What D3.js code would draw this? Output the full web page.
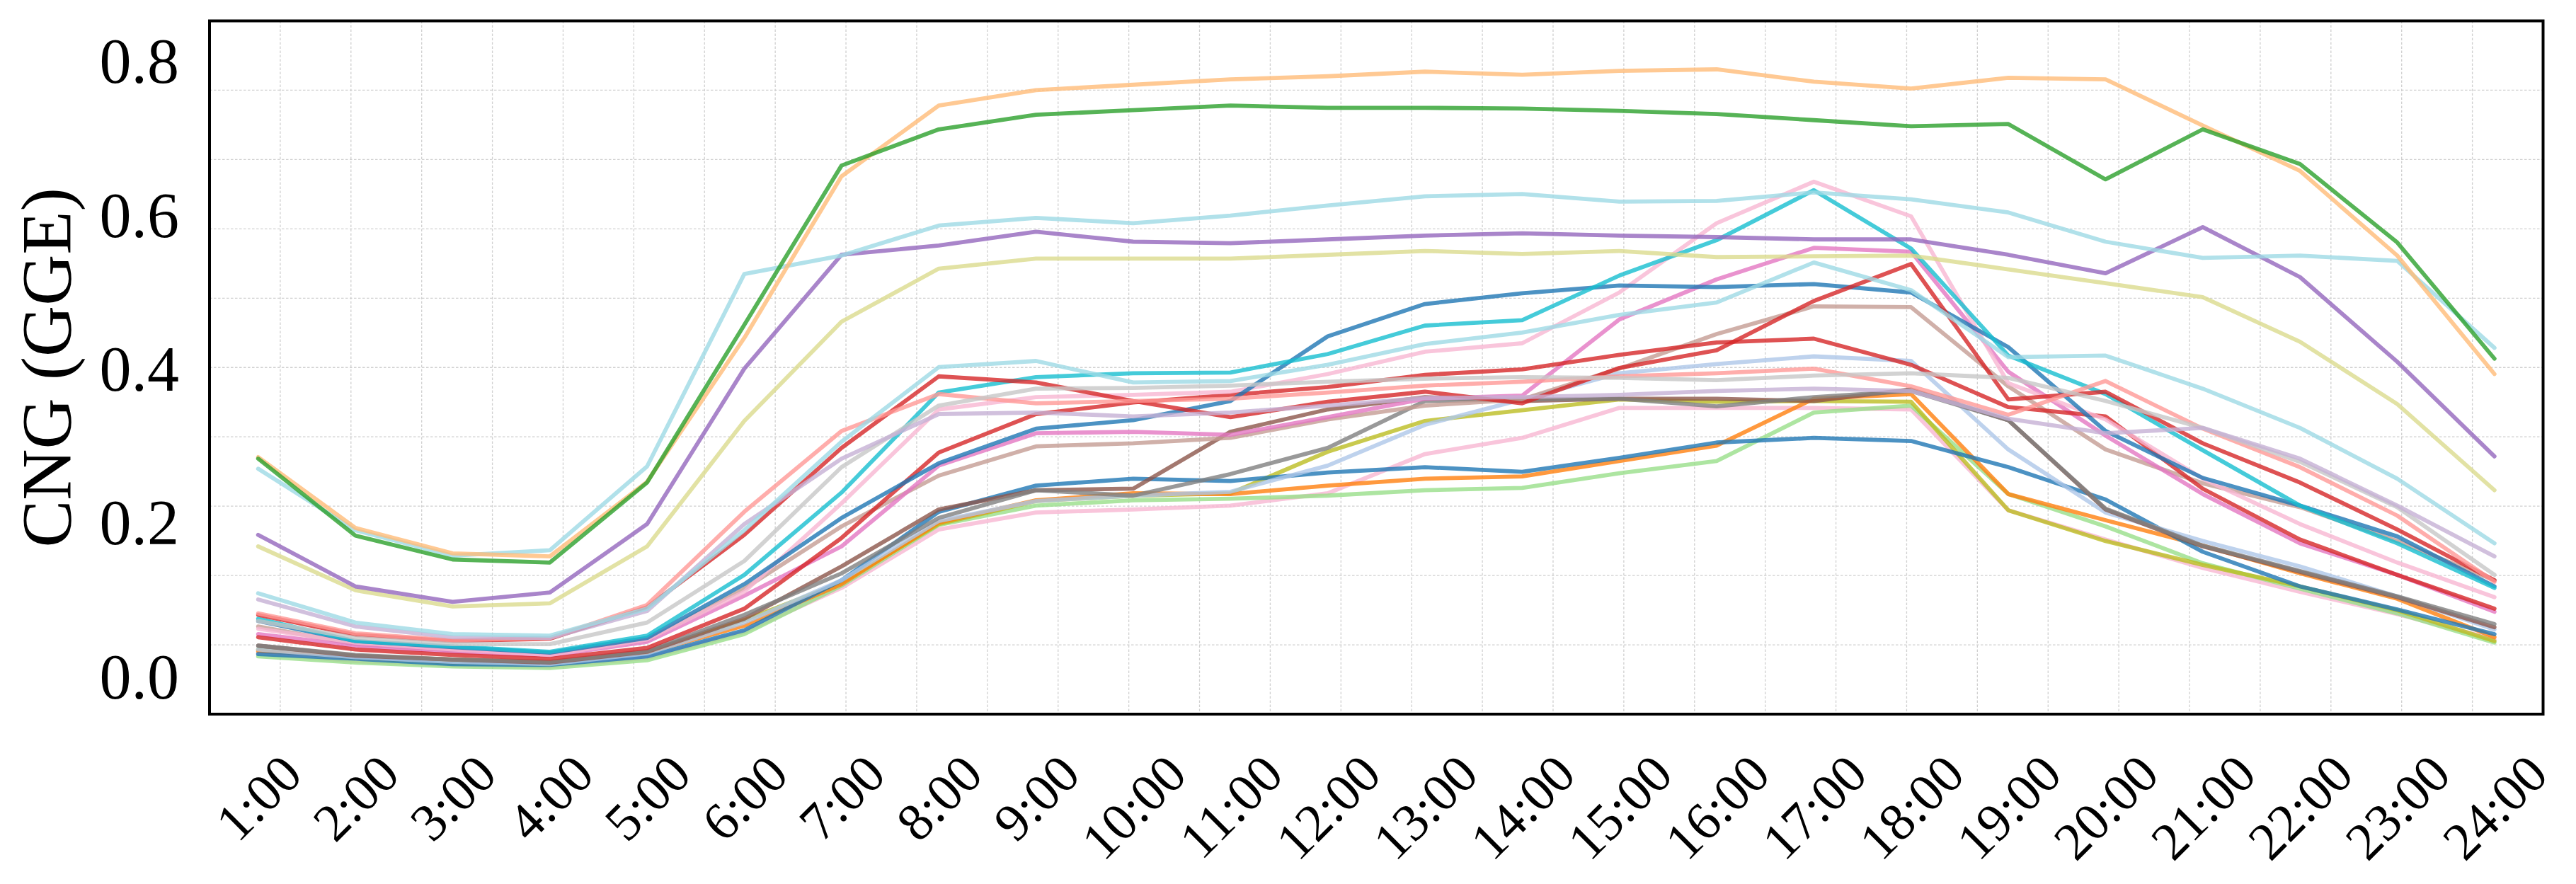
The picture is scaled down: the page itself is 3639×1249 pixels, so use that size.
<!DOCTYPE html>
<html>
<head>
<meta charset="utf-8">
<script src="https://cdn.jsdelivr.net/npm/d3@7"></script>
<style>
  body { margin: 0; background: #fff; }
  svg { display: block; font-family: "Liberation Serif", "Times New Roman", serif; }
</style>
</head>
<body>
<div id="chart"></div>
<script>
// hours on the x axis
const hours = d3.range(1, 25);
const hourLabels = hours.map((h) => `${h}:00`);
const yTicks = [0.0, 0.2, 0.4, 0.6, 0.8];

// one array per station, values in GGE for hours 1..24
const lightOrange = [0.285, 0.193, 0.16, 0.156, 0.253, 0.44, 0.65, 0.742, 0.762, 0.769, 0.776, 0.78, 0.786, 0.782, 0.787, 0.789, 0.773, 0.764, 0.778, 0.776, 0.716, 0.657, 0.547, 0.393];
const green = [0.283, 0.183, 0.152, 0.148, 0.252, 0.457, 0.664, 0.711, 0.73, 0.736, 0.742, 0.739, 0.739, 0.738, 0.735, 0.731, 0.723, 0.715, 0.718, 0.646, 0.711, 0.666, 0.564, 0.413];
const lightCyanA = [0.27, 0.19, 0.157, 0.164, 0.273, 0.523, 0.547, 0.586, 0.596, 0.589, 0.599, 0.612, 0.624, 0.627, 0.617, 0.618, 0.629, 0.62, 0.603, 0.565, 0.544, 0.547, 0.54, 0.427];
const purple = [0.184, 0.117, 0.097, 0.109, 0.198, 0.40, 0.548, 0.56, 0.578, 0.565, 0.563, 0.568, 0.573, 0.576, 0.573, 0.571, 0.568, 0.568, 0.548, 0.524, 0.584, 0.519, 0.409, 0.286];
const lightOlive = [0.169, 0.112, 0.091, 0.095, 0.169, 0.332, 0.461, 0.53, 0.543, 0.543, 0.543, 0.548, 0.553, 0.549, 0.553, 0.545, 0.546, 0.547, 0.529, 0.511, 0.493, 0.435, 0.354, 0.242];
const lightCyanB = [0.108, 0.07, 0.055, 0.053, 0.088, 0.19, 0.305, 0.402, 0.41, 0.382, 0.384, 0.405, 0.432, 0.447, 0.47, 0.486, 0.538, 0.502, 0.415, 0.417, 0.374, 0.323, 0.257, 0.173];
const lightPurple = [0.10, 0.065, 0.051, 0.05, 0.085, 0.198, 0.283, 0.341, 0.343, 0.338, 0.343, 0.352, 0.362, 0.363, 0.366, 0.371, 0.374, 0.371, 0.335, 0.316, 0.323, 0.283, 0.222, 0.156];
const lightGray = [0.072, 0.05, 0.042, 0.042, 0.07, 0.15, 0.272, 0.352, 0.374, 0.375, 0.378, 0.383, 0.387, 0.389, 0.388, 0.385, 0.391, 0.394, 0.388, 0.358, 0.323, 0.279, 0.22, 0.132];
const lightRed = [0.082, 0.056, 0.047, 0.05, 0.093, 0.214, 0.319, 0.367, 0.355, 0.358, 0.361, 0.369, 0.378, 0.383, 0.39, 0.394, 0.4, 0.377, 0.34, 0.384, 0.322, 0.272, 0.209, 0.123];
const redA = [0.08, 0.054, 0.046, 0.049, 0.09, 0.184, 0.297, 0.39, 0.382, 0.358, 0.337, 0.357, 0.37, 0.355, 0.401, 0.424, 0.488, 0.536, 0.36, 0.37, 0.303, 0.252, 0.191, 0.125];
const cyan = [0.075, 0.046, 0.039, 0.032, 0.053, 0.132, 0.239, 0.369, 0.389, 0.394, 0.395, 0.419, 0.456, 0.463, 0.521, 0.567, 0.632, 0.556, 0.417, 0.367, 0.294, 0.222, 0.173, 0.115];
const blueA = [0.072, 0.046, 0.038, 0.031, 0.05, 0.12, 0.206, 0.277, 0.322, 0.333, 0.358, 0.442, 0.484, 0.498, 0.508, 0.506, 0.51, 0.499, 0.428, 0.319, 0.258, 0.222, 0.182, 0.117];
const lightPinkA = [0.062, 0.044, 0.035, 0.028, 0.048, 0.11, 0.225, 0.347, 0.363, 0.366, 0.37, 0.393, 0.422, 0.433, 0.499, 0.589, 0.643, 0.598, 0.381, 0.334, 0.257, 0.198, 0.148, 0.103];
const redB = [0.051, 0.035, 0.028, 0.023, 0.037, 0.088, 0.18, 0.291, 0.341, 0.356, 0.366, 0.376, 0.392, 0.399, 0.418, 0.434, 0.439, 0.405, 0.35, 0.338, 0.244, 0.178, 0.132, 0.088];
const pink = [0.055, 0.04, 0.032, 0.027, 0.045, 0.105, 0.169, 0.274, 0.316, 0.318, 0.314, 0.337, 0.361, 0.365, 0.464, 0.516, 0.557, 0.552, 0.396, 0.313, 0.237, 0.173, 0.132, 0.084];
const lightBrown = [0.065, 0.042, 0.034, 0.03, 0.047, 0.114, 0.195, 0.261, 0.299, 0.303, 0.31, 0.334, 0.352, 0.36, 0.40, 0.445, 0.481, 0.48, 0.377, 0.295, 0.251, 0.22, 0.176, 0.125];
const gray = [0.04, 0.028, 0.022, 0.019, 0.033, 0.08, 0.134, 0.206, 0.242, 0.235, 0.263, 0.297, 0.358, 0.36, 0.361, 0.351, 0.363, 0.371, 0.333, 0.218, 0.17, 0.137, 0.104, 0.068];
const brown = [0.04, 0.027, 0.022, 0.018, 0.032, 0.075, 0.143, 0.217, 0.242, 0.244, 0.318, 0.347, 0.363, 0.358, 0.361, 0.361, 0.358, 0.373, 0.333, 0.217, 0.169, 0.136, 0.103, 0.064];
const lightBlue = [0.035, 0.025, 0.019, 0.016, 0.03, 0.07, 0.125, 0.202, 0.228, 0.235, 0.24, 0.274, 0.327, 0.36, 0.394, 0.406, 0.416, 0.41, 0.295, 0.213, 0.176, 0.143, 0.104, 0.061];
const blueB = [0.029, 0.023, 0.016, 0.015, 0.026, 0.06, 0.125, 0.214, 0.248, 0.257, 0.254, 0.265, 0.272, 0.266, 0.284, 0.304, 0.31, 0.306, 0.272, 0.23, 0.162, 0.117, 0.087, 0.055];
const orange = [0.033, 0.026, 0.022, 0.018, 0.031, 0.066, 0.12, 0.20, 0.229, 0.238, 0.237, 0.248, 0.257, 0.26, 0.28, 0.30, 0.361, 0.367, 0.237, 0.203, 0.17, 0.134, 0.101, 0.051];
const olive = [0.035, 0.024, 0.018, 0.016, 0.031, 0.073, 0.122, 0.198, 0.228, 0.235, 0.238, 0.292, 0.332, 0.346, 0.36, 0.357, 0.358, 0.357, 0.216, 0.176, 0.145, 0.117, 0.086, 0.046];
const lightGreen = [0.026, 0.018, 0.013, 0.011, 0.021, 0.055, 0.118, 0.197, 0.222, 0.229, 0.231, 0.235, 0.242, 0.245, 0.264, 0.28, 0.343, 0.352, 0.237, 0.195, 0.147, 0.114, 0.082, 0.044];
const lightPinkB = [0.03, 0.02, 0.015, 0.013, 0.024, 0.058, 0.115, 0.191, 0.213, 0.217, 0.222, 0.238, 0.289, 0.31, 0.349, 0.349, 0.349, 0.347, 0.216, 0.178, 0.141, 0.11, 0.081, 0.048];

const seriesValues = [
  lightPinkB, lightGreen, olive, orange, blueB, lightBlue, brown, gray, lightBrown, pink,
  redB, lightPinkA, blueA, cyan, redA, lightRed, lightGray, lightPurple, lightCyanB,
  lightOlive, purple, lightCyanA, lightOrange, green,
];
const seriesColors = [
  '#f7b6d2', '#98df8a', '#bcbd22', '#ff7f0e', '#1f77b4', '#aec7e8', '#8c564b', '#7f7f7f', '#c49c94', '#e377c2',
  '#d62728', '#f7b6d2', '#1f77b4', '#17becf', '#d62728', '#ff9896', '#c7c7c7', '#c5b0d5', '#9edae5',
  '#dbdb8d', '#9467bd', '#9edae5', '#ffbb78', '#2ca02c',
];

const width = 3639;
const height = 1249;
const margin = { top: 29.5, right: 46.5, bottom: 240, left: 296 };
const plotRight = width - margin.right;
const plotBottom = height - margin.bottom;

const svg = d3.select('#chart')
  .append('svg')
  .attr('width', width)
  .attr('height', height);

const xScale = d3.scalePoint()
  .domain(hours)
  .range([margin.left, plotRight])
  .padding(0.5);

const yScale = d3.scaleLinear()
  .domain([-0.049, 0.852])
  .range([plotBottom, margin.top]);

// background grid (it does not follow the tick positions in the original)
const gridX = d3.scaleLinear().domain([0, 33]).range([margin.left, plotRight]);
const gridY = d3.scaleLinear().domain([0, 10]).range([plotBottom, margin.top]);

const grid = svg.append('g')
  .attr('stroke', '#d0d0d0')
  .attr('stroke-width', 1.3)
  .attr('stroke-dasharray', '3.5,2.5');

grid.selectAll('line.vx')
  .data(d3.range(1, 33))
  .enter()
  .append('line')
  .attr('x1', (d) => gridX(d))
  .attr('x2', (d) => gridX(d))
  .attr('y1', margin.top)
  .attr('y2', plotBottom);

grid.selectAll('line.hy')
  .data(d3.range(1, 10))
  .enter()
  .append('line')
  .attr('x1', margin.left)
  .attr('x2', plotRight)
  .attr('y1', (d) => gridY(d))
  .attr('y2', (d) => gridY(d));

// station lines
const line = d3.line()
  .x((d, i) => xScale(hours[i]))
  .y((d) => yScale(d));

svg.append('g')
  .selectAll('path')
  .data(seriesValues)
  .enter()
  .append('path')
  .attr('d', (d) => line(d))
  .attr('fill', 'none')
  .attr('stroke', (d, i) => seriesColors[i])
  .attr('stroke-opacity', 0.8)
  .attr('stroke-width', 5.8)
  .attr('stroke-linejoin', 'round')
  .attr('stroke-linecap', 'round');

// y axis
const yAxis = svg.append('g')
  .attr('transform', `translate(${margin.left},0)`)
  .call(d3.axisLeft(yScale).tickValues(yTicks).tickFormat(d3.format('.1f')).tickSize(0).tickPadding(43));
yAxis.select('.domain').remove();
yAxis.selectAll('text')
  .attr('font-family', '"Liberation Serif", "Times New Roman", serif')
  .attr('font-size', 90)
  .attr('fill', '#000')
  .attr('dy', '0.34em');

// x axis, labels rotated 45 degrees and centred on the tick
const xAxis = svg.append('g')
  .attr('transform', `translate(0,${plotBottom})`)
  .call(d3.axisBottom(xScale).tickFormat((d) => hourLabels[d - 1]).tickSize(0).tickPadding(0));
xAxis.select('.domain').remove();

const xFont = 75;
const labelTop = 53;
xAxis.selectAll('.tick text')
  .attr('font-family', '"Liberation Serif", "Times New Roman", serif')
  .attr('font-size', xFont)
  .attr('fill', '#000')
  .attr('text-anchor', 'middle')
  .attr('y', 0)
  .attr('dy', 0)
  .each(function () {
    const len = this.getComputedTextLength();
    const inkH = 0.68 * xFont;
    const dx = 0.354 * inkH;
    const dy = labelTop + 0.707 * (len / 2 + inkH);
    d3.select(this).attr('transform', `translate(${dx},${dy}) rotate(-45)`);
  });

// y axis title
svg.append('text')
  .attr('transform', `translate(99,${(margin.top + plotBottom) / 2}) rotate(-90)`)
  .attr('text-anchor', 'middle')
  .attr('font-size', 100)
  .attr('fill', '#000')
  .text('CNG (GGE)');

// frame
svg.append('rect')
  .attr('x', margin.left)
  .attr('y', margin.top)
  .attr('width', plotRight - margin.left)
  .attr('height', plotBottom - margin.top)
  .attr('fill', 'none')
  .attr('stroke', '#000')
  .attr('stroke-width', 4);
</script>
</body>
</html>
